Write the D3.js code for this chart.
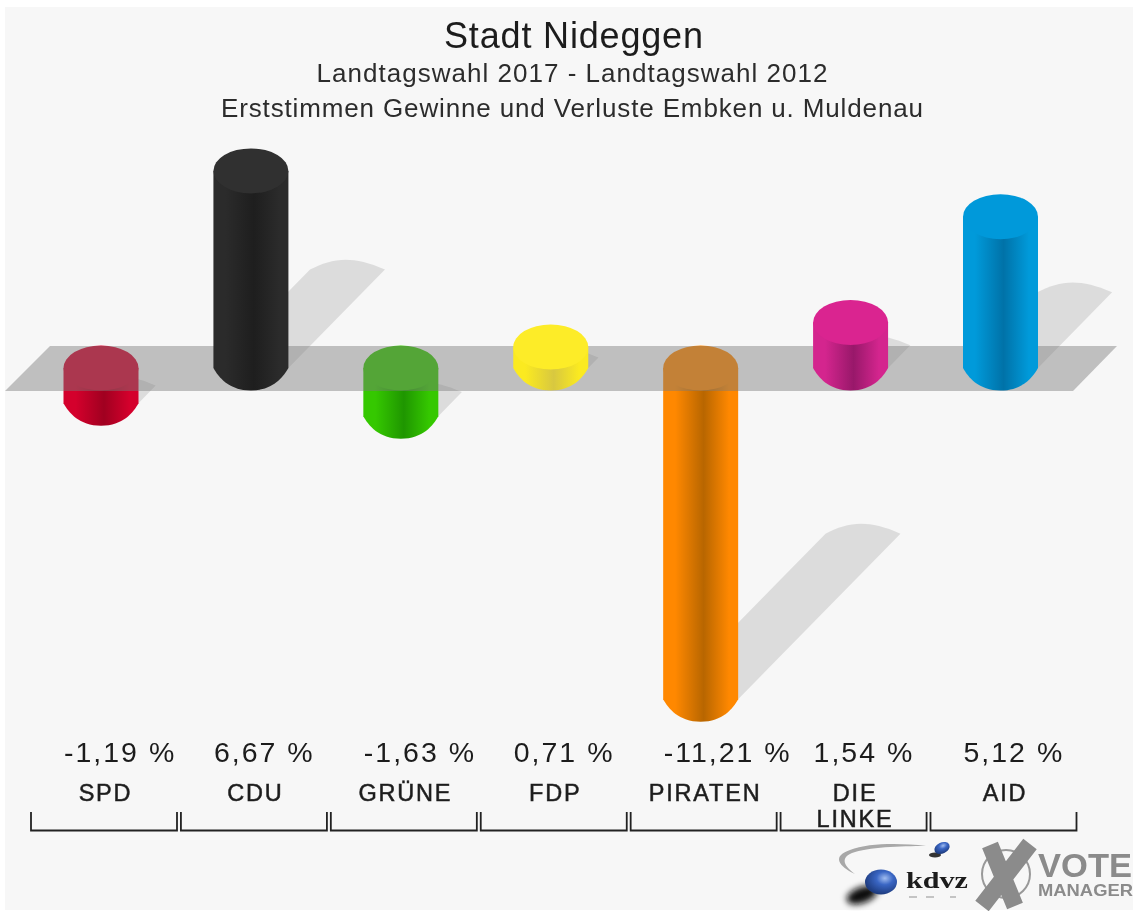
<!DOCTYPE html>
<html><head><meta charset="utf-8">
<script src="https://cdn.jsdelivr.net/npm/d3@7/dist/d3.min.js"></script>
<style>html,body{margin:0;padding:0;background:#fff;overflow:hidden}svg{display:block}
text{font-family:"Liberation Sans",Arial,sans-serif;fill:#1c1c1c}</style></head>
<body><script>
const titleText = "Stadt Nideggen";
const subtitleLines = ["Landtagswahl 2017 - Landtagswahl 2012", "Erststimmen Gewinne und Verluste Embken u. Muldenau"];
const parties = ["SPD","CDU","GRÜNE","FDP","PIRATEN","DIE LINKE","AID"];
const values = [-1.19, 6.67, -1.63, 0.71, -11.21, 1.54, 5.12];
const valueLabels = ["-1,19 %","6,67 %","-1,63 %","0,71 %","-11,21 %","1,54 %","5,12 %"];
const edgeColors = ["#d4002c","#2b2b2b","#35c800","#fbea20","#ff8800","#d4258e","#009ada"];
const coreColors = ["#a00020","#1e1e1e","#1f9600","#d8c840","#b86600","#98186a","#0072a8"];
const capColors  = ["#d4002c","#303030","#35c800","#fdec28","#ff8800","#da2490","#0099da"];

const W = 1133, H = 911, rx = 37.5, ry = 22.5;
const svg = d3.select("body").append("svg").attr("width", W).attr("height", H);
svg.append("rect").attr("x",5).attr("y",7).attr("width",W-5).attr("height",903).attr("fill","#f7f7f7");
const root = svg.append("g").style("filter","blur(0.65px)");
const defs = svg.append("defs");

const x = d3.scalePoint().domain(parties).range([101, 1000.5]);
const y = d3.scaleLinear().domain([0, 6.67]).range([368, 170.9]);
const data = parties.map((p,i)=>({p,i,v:values[i]}));

data.forEach(d=>{
  const g = defs.append("linearGradient").attr("id","g"+d.i).attr("x1",0).attr("x2",1).attr("y1",0).attr("y2",0);
  [[0,edgeColors[d.i]],[0.16,edgeColors[d.i]],[0.54,coreColors[d.i]],[0.88,edgeColors[d.i]],[1,edgeColors[d.i]]]
    .forEach(s=>g.append("stop").attr("offset",s[0]).attr("stop-color",s[1]));
});
const ball = defs.append("radialGradient").attr("id","ball").attr("cx",.62).attr("cy",.35).attr("r",.75);
[[0,"#a0bcf0"],[.35,"#3a66c4"],[1,"#16306c"]].forEach(s=>ball.append("stop").attr("offset",s[0]).attr("stop-color",s[1]));
const blurF = defs.append("filter").attr("id","soft").attr("x","-50%").attr("y","-50%").attr("width","200%").attr("height","200%");
blurF.append("feGaussianBlur").attr("stdDeviation",3);

// shadows: sheared copies of each cylinder, starting at the bar's foot
const kx = 0.49, ky = 0.5;
function shadowPath(d){
  const cx = x(d.p), base = d.v >= 0 ? y(0) : y(d.v), h = Math.abs(y(d.v)-y(0));
  const lx = h*kx, ly = h*ky, tip = base-ly, L = cx-rx+lx, R = cx+rx+lx;
  return `M${cx-rx},${base}L${L},${tip}`+
         `C${L+22},${tip-11} ${R-34},${tip-15} ${R},${tip}`+
         `L${cx+rx},${base}Z`;
}
root.append("g").selectAll("path").data(data).join("path").attr("d",shadowPath).attr("fill","rgba(0,0,0,0.105)");

function bodyPath(d){
  const cx = x(d.p), top = d.v>=0 ? y(d.v) : y(0), bot = d.v>=0 ? y(0) : y(d.v), b = bot+ry;
  return `M${cx-rx},${top}L${cx-rx},${bot}C${cx-rx+5},${bot+9} ${cx-22},${b} ${cx},${b}`+
         `C${cx+22},${b} ${cx+rx-5},${bot+9} ${cx+rx},${bot}L${cx+rx},${top}Z`;
}
function cylinders(sel){
  const g = root.append("g").selectAll("g").data(sel).join("g");
  g.append("path").attr("d",bodyPath).attr("fill",d=>`url(#g${d.i})`);
  g.append("ellipse").attr("cx",d=>x(d.p)).attr("cy",d=>d.v>=0?y(d.v):y(0))
    .attr("rx",rx).attr("ry",ry).attr("fill",d=>capColors[d.i]);
}
cylinders(data.filter(d=>d.v<0));

root.append("path").attr("d",d3.line()([[50,346],[1117,346],[1073,391],[5,391]])+"Z").attr("fill","rgba(122,122,122,0.45)");

cylinders(data.filter(d=>d.v>=0));

root.append("text").attr("x",573.5).attr("y",48).attr("text-anchor","middle")
  .attr("font-size",36).attr("textLength",259).text(titleText);
subtitleLines.forEach((t,i)=>{
  root.append("text").attr("x",572).attr("y",[82,117][i]).attr("text-anchor","middle")
    .attr("font-size",26).style("fill","#2c2c2c").attr("textLength",[511,702][i]).text(t);
});

root.append("g").selectAll("text").data(data).join("text")
  .attr("x",d=>x(d.p)-37).attr("y",762).attr("font-size",28.5).style("letter-spacing","2px")
  .text(d=>valueLabels[d.i]);

root.append("g").selectAll("g").data(data).join("g").each(function(d){
  const parts = d.p.split(" ");
  d3.select(this).selectAll("text").data(parts).join("text")
    .attr("x",x(d.p)+4.5).attr("y",(t,j)=>801+j*26).attr("text-anchor","middle")
    .attr("font-size",23.5).attr("stroke","#222").attr("stroke-width",0.5).style("letter-spacing","1.8px").text(t=>t);
});

root.append("g").selectAll("path").data(data).join("path")
  .attr("d",d=>{const c=x(d.p)+3; return `M${c-73},812V830.5H${c+73}V812`;})
  .attr("fill","none").attr("stroke","#222").attr("stroke-width",1.8);

const logo = root.append("g");
logo.append("path").attr("d","M855,874C838,866 832,856 850,850C868,843 900,843 926,846C900,846 868,847 852,853C840,858 844,866 855,874Z").attr("fill","#a8a8a8");
logo.append("ellipse").attr("cx",862).attr("cy",895).attr("rx",16).attr("ry",8).attr("transform","rotate(-20 862 895)").attr("fill","#111").attr("filter","url(#soft)");
logo.append("ellipse").attr("cx",881).attr("cy",882).attr("rx",16).attr("ry",12.5).attr("fill","url(#ball)");
logo.append("ellipse").attr("cx",935).attr("cy",855).attr("rx",6).attr("ry",2.5).attr("fill","#333");
logo.append("ellipse").attr("cx",942).attr("cy",848).attr("rx",8).attr("ry",5.5).attr("transform","rotate(-25 942 848)").attr("fill","url(#ball)");
logo.append("text").attr("x",906).attr("y",888).style("font-family","'Liberation Serif',serif")
  .attr("font-weight","bold").attr("font-size",24).attr("textLength",62).attr("lengthAdjust","spacingAndGlyphs").text("kdvz");
logo.append("path").attr("d","M909,897h8M926,897h8M950,897h6").attr("stroke","#c4c4c4").attr("stroke-width",2);
logo.append("circle").attr("cx",1006).attr("cy",874).attr("r",24).attr("fill","none").attr("stroke","#999").attr("stroke-width",2);
logo.append("path").attr("d","M990,845L1015,906M1030,844L982,906").attr("stroke","#8b8b8b").attr("stroke-width",17).attr("fill","none");
logo.append("text").attr("x",1038).attr("y",877).attr("font-weight","bold").attr("font-size",33).style("fill","#8b8b8b")
  .attr("textLength",94).attr("lengthAdjust","spacingAndGlyphs").text("VOTE");
logo.append("text").attr("x",1038).attr("y",895.5).attr("font-weight","bold").attr("font-size",16.5).style("fill","#8b8b8b")
  .attr("textLength",95).attr("lengthAdjust","spacingAndGlyphs").text("MANAGER");
</script></body></html>
